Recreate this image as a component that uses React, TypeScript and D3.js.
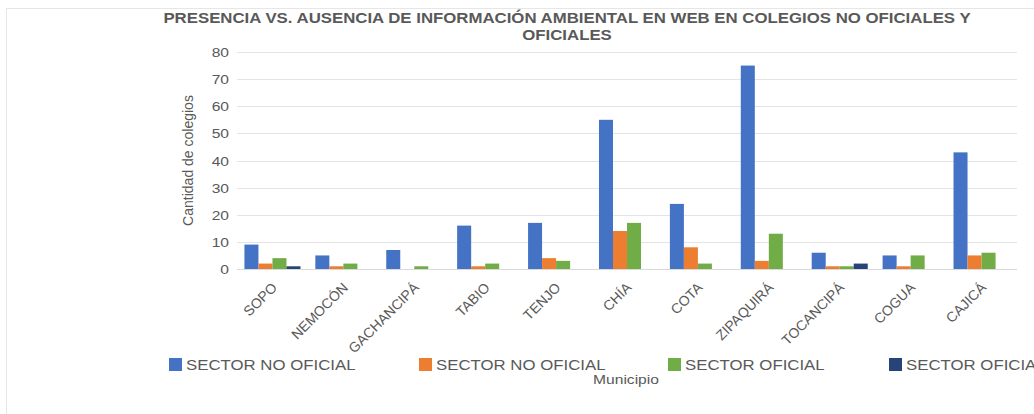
import React, { useEffect, useRef } from "react";
import * as d3 from "d3";

// data
const municipios = [
  "SOPO", "NEMOCÓN", "GACHANCIPÁ", "TABIO", "TENJO", "CHÍA",
  "COTA", "ZIPAQUIRÁ", "TOCANCIPÁ", "COGUA", "CAJICÁ",
];
const noOficialA = [9, 5, 7, 16, 17, 55, 24, 75, 6, 5, 43];
const noOficialB = [2, 1, 0, 1, 4, 14, 8, 3, 1, 1, 5];
const oficialA = [4, 2, 1, 2, 3, 17, 2, 13, 1, 5, 6];
const oficialB = [1, 0, 0, 0, 0, 0, 0, 0, 2, 0, 0];
const seriesNames = ["SECTOR NO OFICIAL", "SECTOR NO OFICIAL", "SECTOR OFICIAL", "SECTOR OFICIAL"];
const yTicks = [0, 10, 20, 30, 40, 50, 60, 70, 80];

const colors = ["#4472C4", "#ED7D31", "#70AD47", "#264478"];
const W = 1034;
const H = 414;
const FONT = "'Liberation Sans', Arial, sans-serif";
const TXT = "#595959";
// the source picture is stretched sideways, text included
const SX = 1.2;

export default function App() {
  const ref = useRef<SVGSVGElement>(null);

  useEffect(() => {
    const svg = d3.select(ref.current);
    svg.selectAll("*").remove();

    const margin = { top: 52, right: 17, bottom: 145, left: 237 };
    const series = [noOficialA, noOficialB, oficialA, oficialB];

    // stretched horizontal text helper
    const label = (tx: number, ty: number, str: string, size = 13, anchor = "start") =>
      svg.append("text")
        .attr("transform", `translate(${tx},${ty}) scale(${SX},1)`)
        .attr("text-anchor", anchor)
        .attr("font-family", FONT)
        .attr("font-size", size)
        .attr("fill", TXT)
        .text(str);

    // frame (top + left border)
    svg.append("line").attr("x1", 6).attr("x2", W).attr("y1", 8.5).attr("y2", 8.5)
      .attr("stroke", "#e6e6e6");
    svg.append("line").attr("x1", 6.5).attr("x2", 6.5).attr("y1", 8).attr("y2", H)
      .attr("stroke", "#e6e6e6");

    const x = d3.scaleBand<string>()
      .domain(municipios)
      .range([margin.left, W - margin.right])
      .padding(0);

    const xInner = d3.scaleBand<number>()
      .domain([0, 1, 2, 3])
      .range([0, x.bandwidth()])
      .paddingInner(0)
      .paddingOuter(0.53);

    const y = d3.scaleLinear()
      .domain([0, 80])
      .range([H - margin.bottom, margin.top]);

    // grid
    svg.append("g")
      .selectAll("line")
      .data(yTicks)
      .join("line")
      .attr("x1", margin.left)
      .attr("x2", W - margin.right)
      .attr("y1", d => Math.round(y(d)) + 0.5)
      .attr("y2", d => Math.round(y(d)) + 0.5)
      .attr("stroke", d => (d === 0 ? "#d9d9d9" : "#e4e4e4"))
      .attr("stroke-width", 1.2);

    // y tick labels
    yTicks.forEach(t => {
      label(margin.left - 8, y(t) + 5, String(t), 13, "end");
    });

    // bars
    series.forEach((vals, si) => {
      svg.append("g")
        .selectAll("rect")
        .data(vals)
        .join("rect")
        .attr("x", (d, i) => (x(municipios[i]) as number) + (xInner(si) as number))
        .attr("width", xInner.bandwidth())
        .attr("y", d => y(d))
        .attr("height", d => y(0) - y(d))
        .attr("fill", colors[si]);
    });

    // x labels
    svg.append("g")
      .selectAll("text")
      .data(municipios)
      .join("text")
      .attr("transform", d =>
        `translate(${(x(d) as number) + x.bandwidth() / 2 + 2},${y(0) + 16}) rotate(-45)`)
      .attr("text-anchor", "end")
      .attr("dy", "0.35em")
      .attr("font-family", FONT)
      .attr("font-size", 14)
      .attr("fill", TXT)
      .text(d => d);

    // title
    const tl = label(567, 23, "PRESENCIA VS. AUSENCIA DE INFORMACIÓN AMBIENTAL EN WEB EN COLEGIOS NO OFICIALES Y", 14, "middle");
    tl.attr("font-weight", "bold");
    label(567, 40, "OFICIALES", 14, "middle").attr("font-weight", "bold");

    // y axis title
    svg.append("text")
      .attr("transform", `translate(193,${(y(0) + y(80)) / 2}) rotate(-90)`)
      .attr("text-anchor", "middle")
      .attr("font-family", FONT)
      .attr("font-size", 14)
      .attr("fill", TXT)
      .text("Cantidad de colegios");

    // x axis title
    label(626, 384, "Municipio", 13, "middle");

    // legend
    const legendX = [169, 419, 668, 889];
    seriesNames.forEach((name, i) => {
      svg.append("rect")
        .attr("x", legendX[i])
        .attr("y", 358)
        .attr("width", 13)
        .attr("height", 13)
        .attr("fill", colors[i]);
      label(legendX[i] + 17, 370, name, 14);
    });
  }, []);

  return (
    <div style={{ position: "fixed", left: 0, top: 0, width: W, height: H, background: "#fff" }}>
      <svg ref={ref} width={W} height={H} style={{ display: "block" }} />
    </div>
  );
}
